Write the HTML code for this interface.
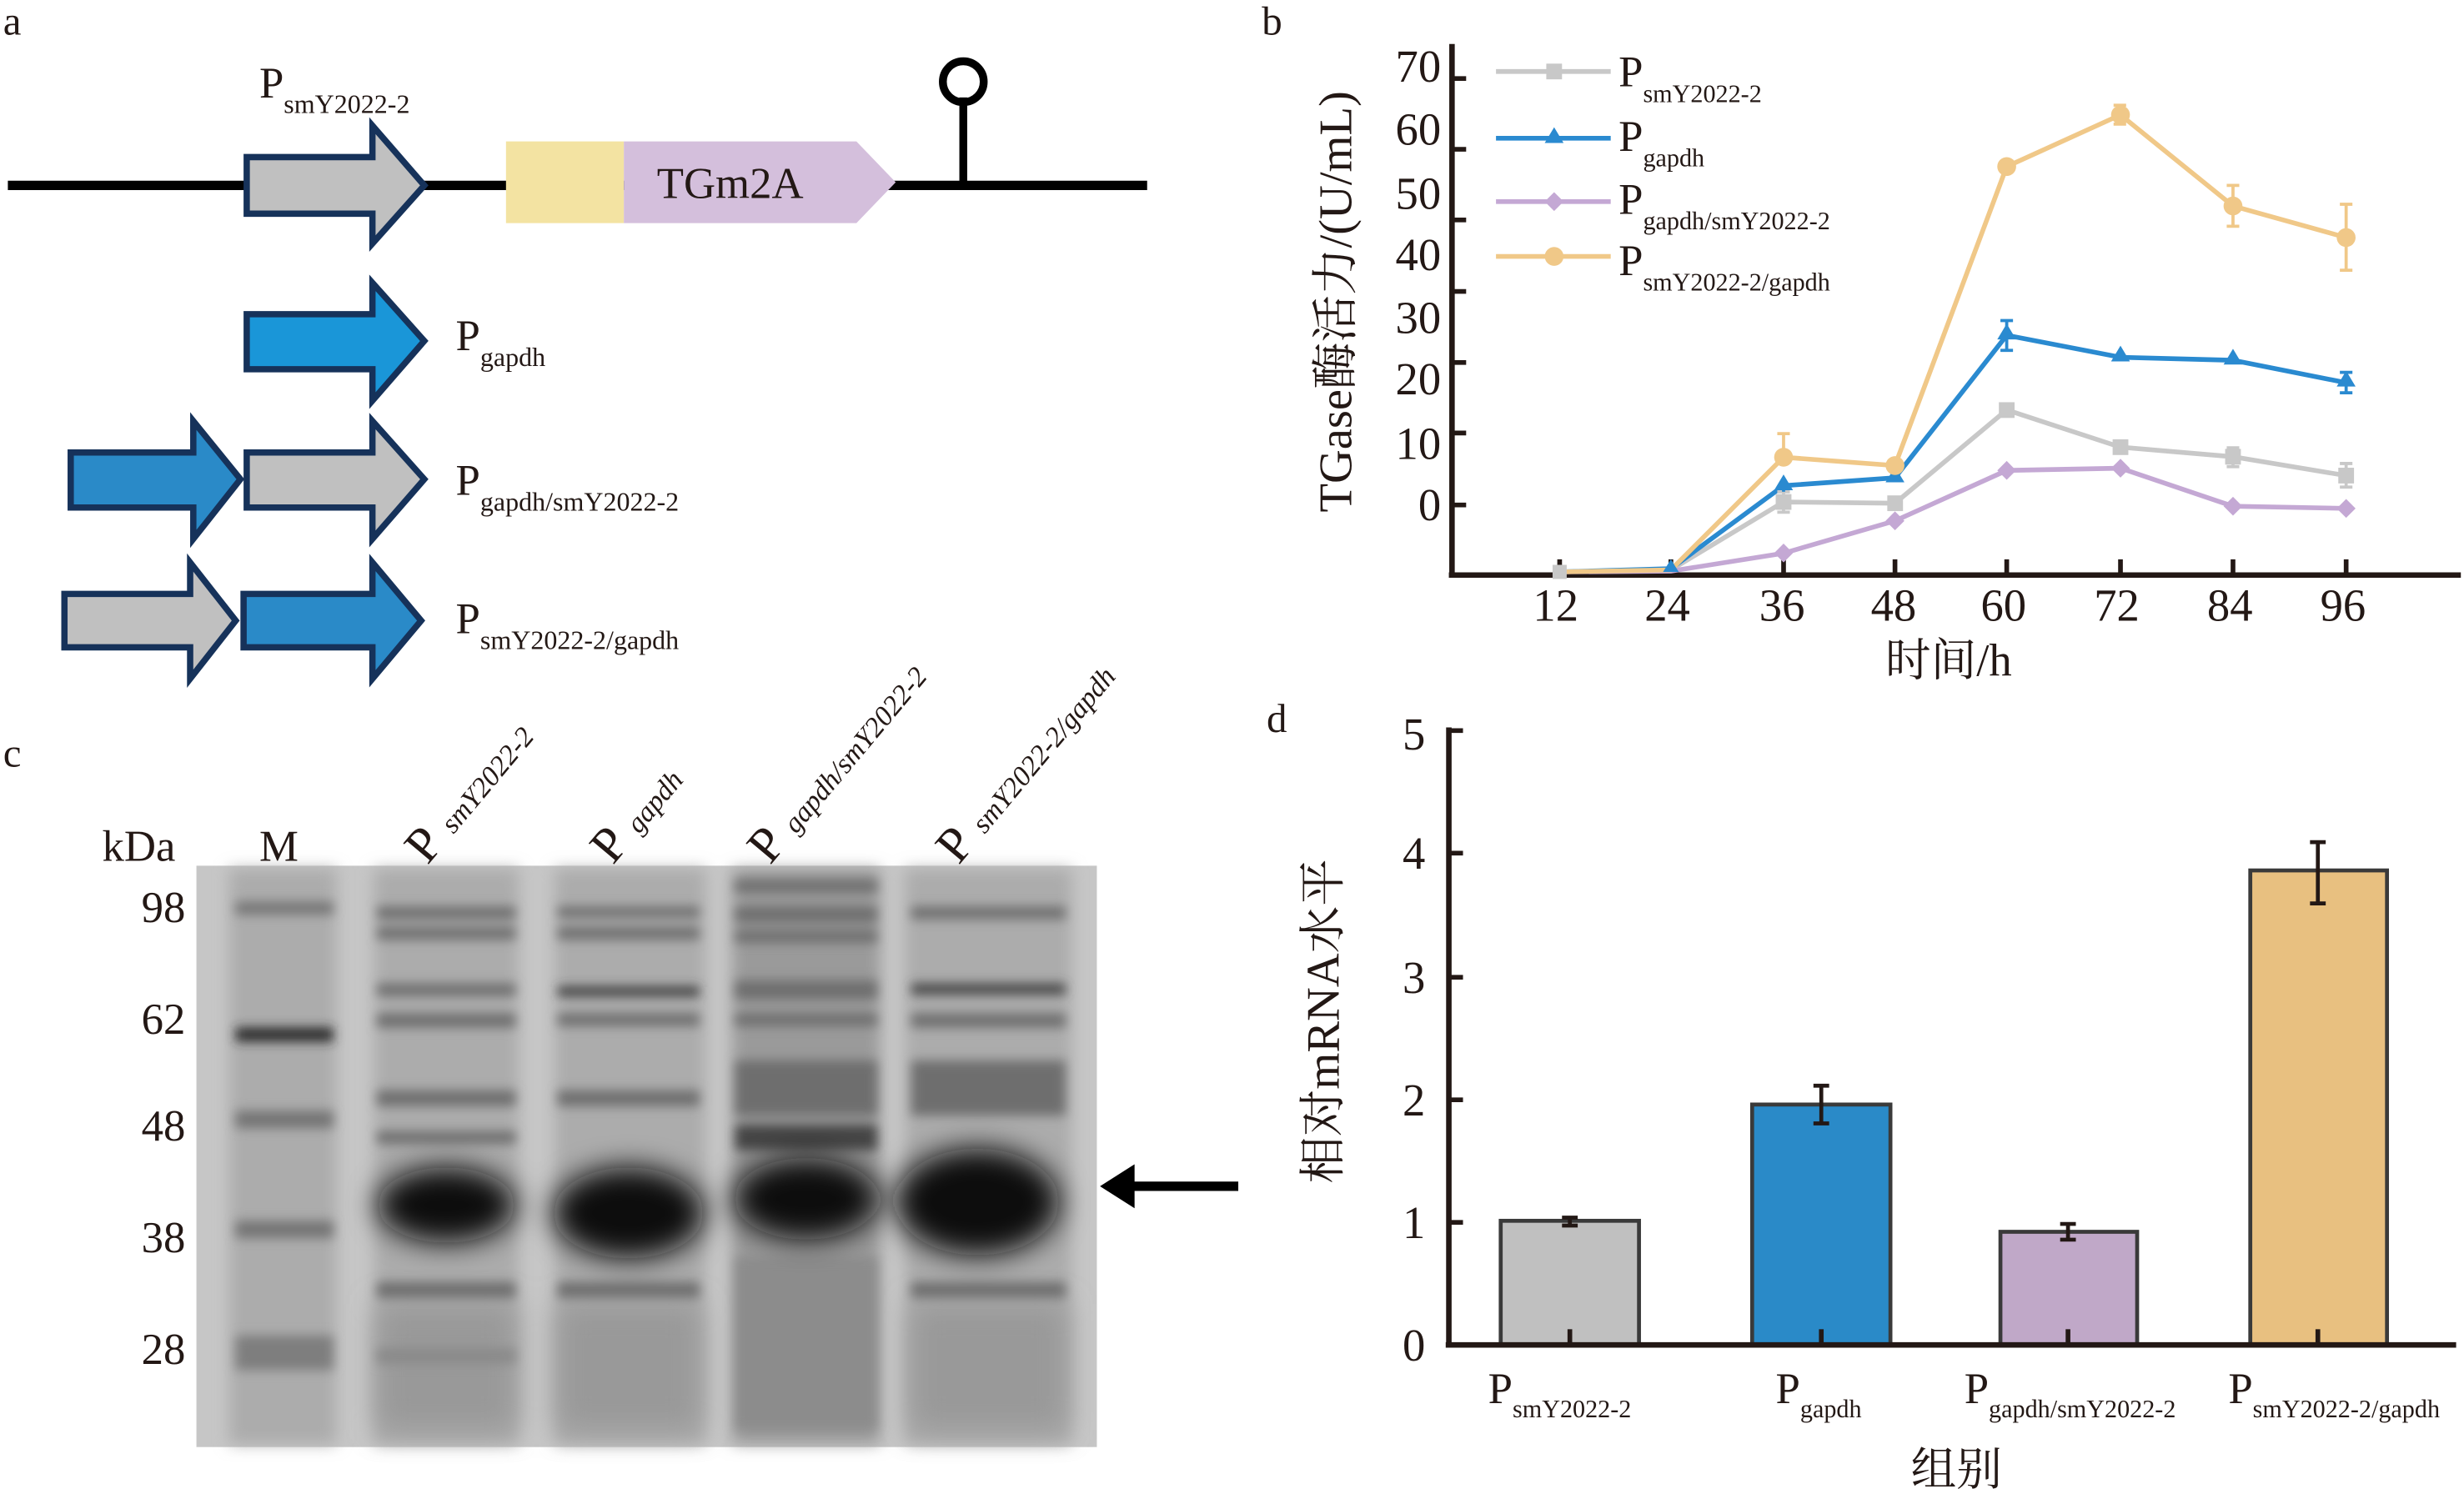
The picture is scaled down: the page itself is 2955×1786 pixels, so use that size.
<!DOCTYPE html>
<html><head><meta charset="utf-8"><style>
html,body{margin:0;padding:0;background:#fff}
svg{display:block}
text{font-family:"Liberation Serif","Noto Serif CJK SC",serif;fill:#231815}
</style></head><body>
<svg width="2955" height="1786" viewBox="0 0 1568 947.7" preserveAspectRatio="none" xmlns="http://www.w3.org/2000/svg">
<defs>
<filter id="b2" x="-20%" y="-200%" width="140%" height="500%"><feGaussianBlur stdDeviation="3.5"/></filter>
<filter id="b4" x="-20%" y="-100%" width="140%" height="300%"><feGaussianBlur stdDeviation="5"/></filter>
<filter id="b8" x="-30%" y="-100%" width="160%" height="300%"><feGaussianBlur stdDeviation="9"/></filter>
</defs>
<!-- Panel a -->
<text x="2" y="22" font-size="26">a</text>
<line x1="5" y1="118" x2="730" y2="118" stroke="#000" stroke-width="6"/>
<polygon points="157,100 237,100 237,80 270,118 237,155 237,136 157,136" fill="#c0c0c0" stroke="#16325a" stroke-width="4"/>
<text x="165" y="62" font-size="28">P<tspan font-size="17" dy="10">smY2022-2</tspan></text>
<rect x="322" y="90" width="75" height="52" fill="#f3e3a2"/>
<polygon points="397,90 545,90 570,116 545,142 397,142" fill="#d4bfdc"/>
<text x="418" y="126" font-size="28">TGm2A</text>
<line x1="613" y1="118" x2="613" y2="62" stroke="#000" stroke-width="5"/>
<circle cx="613" cy="52" r="13" fill="none" stroke="#000" stroke-width="5"/>
<polygon points="157,200 237,200 237,180 270,217 237,255 237,235 157,235" fill="#1a96d8" stroke="#16325a" stroke-width="4"/>
<text x="290" y="223" font-size="28">P<tspan font-size="17" dy="10">gapdh</tspan></text>
<polygon points="45,288 123,288 123,268 153,305 123,343 123,323 45,323" fill="#2a8ac8" stroke="#16325a" stroke-width="4"/>
<polygon points="157,288 237,288 237,268 270,305 237,343 237,323 157,323" fill="#c0c0c0" stroke="#16325a" stroke-width="4"/>
<text x="290" y="315" font-size="28">P<tspan font-size="17" dy="10">gapdh/smY2022-2</tspan></text>
<polygon points="41,378 121,378 121,358 150,395 121,432 121,412 41,412" fill="#c0c0c0" stroke="#16325a" stroke-width="4"/>
<polygon points="155,378 237,378 237,358 268,395 237,432 237,412 155,412" fill="#2a8ac8" stroke="#16325a" stroke-width="4"/>
<text x="290" y="403" font-size="28">P<tspan font-size="17" dy="10">smY2022-2/gapdh</tspan></text>

<!-- Panel b -->
<text x="803" y="22" font-size="26">b</text>
<g stroke="#231815" stroke-width="3.5">
<line x1="924" y1="28" x2="924" y2="367"/>
<line x1="922" y1="366" x2="1566" y2="366"/>
</g>
<g stroke="#231815" stroke-width="3">
<line x1="924" y1="50" x2="933" y2="50"/><line x1="924" y1="95" x2="933" y2="95"/><line x1="924" y1="140" x2="933" y2="140"/><line x1="924" y1="185.5" x2="933" y2="185.5"/><line x1="924" y1="230.7" x2="933" y2="230.7"/><line x1="924" y1="275.6" x2="933" y2="275.6"/><line x1="924" y1="321.4" x2="933" y2="321.4"/>
<line x1="992.5" y1="356" x2="992.5" y2="366"/><line x1="1063.3" y1="356" x2="1063.3" y2="366"/><line x1="1135" y1="356" x2="1135" y2="366"/><line x1="1205.9" y1="356" x2="1205.9" y2="366"/><line x1="1277" y1="356" x2="1277" y2="366"/><line x1="1349.4" y1="356" x2="1349.4" y2="366"/><line x1="1421" y1="356" x2="1421" y2="366"/><line x1="1493" y1="356" x2="1493" y2="366"/>
</g>
<g font-size="29" text-anchor="end">
<text x="917" y="52">70</text><text x="917" y="92">60</text><text x="917" y="133">50</text><text x="917" y="172">40</text><text x="917" y="212">30</text><text x="917" y="251">20</text><text x="917" y="292">10</text><text x="917" y="331">0</text>
</g>
<g font-size="29" text-anchor="middle">
<text x="990" y="395">12</text><text x="1061" y="395">24</text><text x="1134" y="395">36</text><text x="1205" y="395">48</text><text x="1275" y="395">60</text><text x="1347" y="395">72</text><text x="1419" y="395">84</text><text x="1491" y="395">96</text>
</g>
<text x="1240" y="430" font-size="29" text-anchor="middle">时间/h</text>
<text transform="translate(860,192) rotate(-90)" font-size="30" text-anchor="middle">TGase酶活力/(U/mL)</text>
<g fill="none" stroke-width="3">
<polyline stroke="#c8c8c8" points="992.5,364 1063.3,362.7 1135,319.5 1205.9,320.3 1277,260.9 1349.4,284.6 1421,290.7 1493,302.7"/>
<polyline stroke="#2a8ad0" points="992.5,364 1063.3,361.9 1135,309.1 1205.9,304.1 1277,213.4 1349.4,227.4 1421,229.3 1493,243.6"/>
<polyline stroke="#c4a8d4" points="992.5,364 1063.3,363.5 1135,352.1 1205.9,331.5 1277,299.4 1349.4,298 1421,322.2 1493,323.6"/>
<polyline stroke="#f0c888" points="992.5,364 1063.3,362.7 1135,291 1205.9,296.3 1277,106 1349.4,73.1 1421,131.1 1493,151.2"/>
</g>
<g stroke-width="2" fill="none">
<path stroke="#c8c8c8" d="M1135 313v13M1131 313h8M1131 326h8M1421 285v12M1417 285h8M1417 297h8M1493 295v15M1489 295h8M1489 310h8M1277 257v8"/>
<path stroke="#2a8ad0" d="M1277 204v19M1273 204h8M1273 223h8M1493 237v13M1489 237h8M1489 250h8M1135 305v8"/>
<path stroke="#f0c888" d="M1135 276v20M1131 276h8M1421 118v26M1417 118h8M1417 144h8M1493 130v42M1489 130h8M1489 172h8M1349.4 67v12M1345 67h8M1345 79h8M1277 102v8"/>
</g>
<g fill="#c8c8c8"><rect x="1130" y="314.5" width="10" height="10"/><rect x="1201" y="315.3" width="10" height="10"/><rect x="1272" y="256" width="10" height="10"/><rect x="1344.4" y="279.6" width="10" height="10"/><rect x="1416" y="285.7" width="10" height="10"/><rect x="1488" y="297.7" width="10" height="10"/><rect x="988" y="359.5" width="9" height="9"/></g>
<g fill="#2a8ad0"><path d="M1135 302l6 10h-12zM1205.9 297l6 10h-12zM1277 206l6 10h-12zM1349.4 220l6 10h-12zM1421 222l6 10h-12zM1493 236l6 10h-12zM1063.3 356l5 8h-10z"/></g>
<g fill="#c4a8d4"><path d="M1135 346l6 6-6 6-6-6zM1205.9 325.5l6 6-6 6-6-6zM1277 293.4l6 6-6 6-6-6zM1349.4 292l6 6-6 6-6-6zM1421 316.2l6 6-6 6-6-6zM1493 317.6l6 6-6 6-6-6z"/></g>
<g fill="#f0c888"><circle cx="1135" cy="291" r="6"/><circle cx="1205.9" cy="296.3" r="6"/><circle cx="1277" cy="106" r="6"/><circle cx="1349.4" cy="73.1" r="6"/><circle cx="1421" cy="131.1" r="6"/><circle cx="1493" cy="151.2" r="6"/></g>
<g stroke-width="3">
<line x1="952" y1="45.5" x2="1025" y2="45.5" stroke="#c8c8c8"/>
<line x1="952" y1="88" x2="1025" y2="88" stroke="#2a8ad0"/>
<line x1="952" y1="128.3" x2="1025" y2="128.3" stroke="#c4a8d4"/>
<line x1="952" y1="163.2" x2="1025" y2="163.2" stroke="#f0c888"/>
</g>
<rect x="984" y="40.5" width="10" height="10" fill="#c8c8c8"/>
<path d="M989 81l6 10h-12z" fill="#2a8ad0"/>
<path d="M989 122.3l6 6-6 6-6-6z" fill="#c4a8d4"/>
<circle cx="989" cy="163.2" r="6" fill="#f0c888"/>
<g font-size="28">
<text x="1030" y="55">P<tspan font-size="16" dy="10">smY2022-2</tspan></text>
<text x="1030" y="96">P<tspan font-size="16" dy="10">gapdh</tspan></text>
<text x="1030" y="136">P<tspan font-size="16" dy="10">gapdh/smY2022-2</tspan></text>
<text x="1030" y="175">P<tspan font-size="16" dy="10">smY2022-2/gapdh</tspan></text>
</g>

<!-- Panel c -->
<text x="2" y="488" font-size="26">c</text>
<rect x="125" y="551" width="573" height="370" fill="#c6c6c6"/>
<g filter="url(#b4)" fill="#acacac">
<rect x="146" y="553" width="68" height="366"/>
<rect x="238" y="553" width="92" height="366"/>
<rect x="353" y="553" width="96" height="366"/>
<rect x="466" y="553" width="94" height="366" fill="#9a9a9a"/>
<rect x="576" y="553" width="106" height="366"/>
</g>
<g filter="url(#b8)" fill="#999">
<rect x="240" y="830" width="88" height="80"/><rect x="355" y="830" width="90" height="80"/><rect x="580" y="830" width="98" height="80"/>
</g>
<g fill="#747474" filter="url(#b2)">
<rect x="150" y="574" width="62" height="8"/>
<rect x="150" y="654" width="62" height="9" fill="#2a2a2a"/>
<rect x="150" y="707" width="62" height="11"/>
<rect x="150" y="777" width="62" height="11"/>
<rect x="150" y="850" width="62" height="22" fill="#7e7e7e"/>
</g>
<g fill="#6e6e6e" filter="url(#b2)">
<rect x="240" y="577" width="88" height="8"/><rect x="240" y="590" width="88" height="8"/><rect x="240" y="626" width="88" height="8"/><rect x="240" y="645" width="88" height="9"/><rect x="240" y="694" width="88" height="10"/><rect x="240" y="720" width="88" height="8"/><rect x="240" y="816" width="88" height="10"/><rect x="240" y="858" width="88" height="10" fill="#8a8a8a"/>
<rect x="355" y="577" width="90" height="7"/><rect x="355" y="590" width="90" height="8"/><rect x="355" y="628" width="90" height="6" fill="#3a3a3a"/><rect x="355" y="645" width="90" height="8"/><rect x="355" y="694" width="90" height="10"/><rect x="355" y="816" width="90" height="10"/>
<rect x="468" y="560" width="90" height="8"/><rect x="468" y="577" width="90" height="10"/><rect x="468" y="592" width="90" height="8"/><rect x="468" y="624" width="90" height="12"/><rect x="468" y="645" width="90" height="8"/><rect x="468" y="675" width="90" height="35"/><rect x="468" y="716" width="90" height="16" fill="#444"/><rect x="468" y="800" width="90" height="110" fill="#8c8c8c"/>
<rect x="580" y="577" width="98" height="8"/><rect x="580" y="626" width="98" height="7" fill="#444"/><rect x="580" y="645" width="98" height="9"/><rect x="580" y="675" width="98" height="35"/><rect x="580" y="816" width="98" height="10"/>
</g>
<g fill="#0a0a0a" filter="url(#b8)">
<ellipse cx="284" cy="767" rx="44" ry="24"/>
<ellipse cx="400" cy="772" rx="48" ry="29"/>
<ellipse cx="513" cy="763" rx="46" ry="26"/>
<ellipse cx="622" cy="765" rx="52" ry="34"/>
</g>
<g font-size="28">
<text x="65" y="548">kDa</text><text x="165" y="548">M</text>
<text x="118" y="587" text-anchor="end">98</text><text x="118" y="658" text-anchor="end">62</text><text x="118" y="726" text-anchor="end">48</text><text x="118" y="797" text-anchor="end">38</text><text x="118" y="868" text-anchor="end">28</text>
</g>
<g font-size="32">
<text transform="translate(272,551) rotate(-50)">P<tspan font-size="18" dx="8" font-style="italic">smY2022-2</tspan></text>
<text transform="translate(390,551) rotate(-50)">P<tspan font-size="18" dx="8" font-style="italic">gapdh</tspan></text>
<text transform="translate(490,551) rotate(-50)">P<tspan font-size="18" dx="8" font-style="italic">gapdh/smY2022-2</tspan></text>
<text transform="translate(610,551) rotate(-50)">P<tspan font-size="18" dx="8" font-style="italic">smY2022-2/gapdh</tspan></text>
</g>
<line x1="718" y1="755" x2="788" y2="755" stroke="#000" stroke-width="6"/>
<polygon points="700,755 722,741 722,769" fill="#000"/>

<!-- Panel d -->
<text x="806" y="466" font-size="26">d</text>
<g stroke="#3a3a3a" stroke-width="2.5">
<rect x="955" y="777" width="88" height="79" fill="#c0c0c0"/>
<rect x="1115" y="703" width="88" height="153" fill="#2a8ac8"/>
<rect x="1273" y="784" width="87" height="72" fill="#c0a8c8"/>
<rect x="1432" y="554" width="87" height="302" fill="#e8c080"/>
</g>
<g stroke="#231815" stroke-width="3.5">
<line x1="922" y1="463" x2="922" y2="857"/>
<line x1="920" y1="856" x2="1563" y2="856"/>
</g>
<g stroke="#231815" stroke-width="3">
<line x1="922" y1="465" x2="931" y2="465"/><line x1="922" y1="543" x2="931" y2="543"/><line x1="922" y1="622" x2="931" y2="622"/><line x1="922" y1="700" x2="931" y2="700"/><line x1="922" y1="778" x2="931" y2="778"/>
<line x1="999" y1="846" x2="999" y2="856"/><line x1="1159" y1="846" x2="1159" y2="856"/><line x1="1316" y1="846" x2="1316" y2="856"/><line x1="1475" y1="846" x2="1475" y2="856"/>
</g>
<g stroke="#231815" stroke-width="2.5">
<path d="M999 775v5M994 775h10M994 780h10"/>
<path d="M1159 691v24M1154 691h10M1154 715h10"/>
<path d="M1316 779v10M1311 779h10M1311 789h10"/>
<path d="M1475 536v39M1470 536h10M1470 575h10"/>
</g>
<g font-size="29" text-anchor="end">
<text x="907" y="477">5</text><text x="907" y="553">4</text><text x="907" y="632">3</text><text x="907" y="710">2</text><text x="907" y="788">1</text><text x="907" y="866">0</text>
</g>
<g font-size="28">
<text x="947" y="893">P<tspan font-size="16" dy="9">smY2022-2</tspan></text>
<text x="1130" y="893">P<tspan font-size="16" dy="9">gapdh</tspan></text>
<text x="1250" y="893">P<tspan font-size="16" dy="9">gapdh/smY2022-2</tspan></text>
<text x="1418" y="893">P<tspan font-size="16" dy="9">smY2022-2/gapdh</tspan></text>
</g>
<text x="1245" y="945" font-size="29" text-anchor="middle">组别</text>
<text transform="translate(852,650) rotate(-90)" font-size="30" text-anchor="middle">相对mRNA水平</text>
</svg>
</body></html>
